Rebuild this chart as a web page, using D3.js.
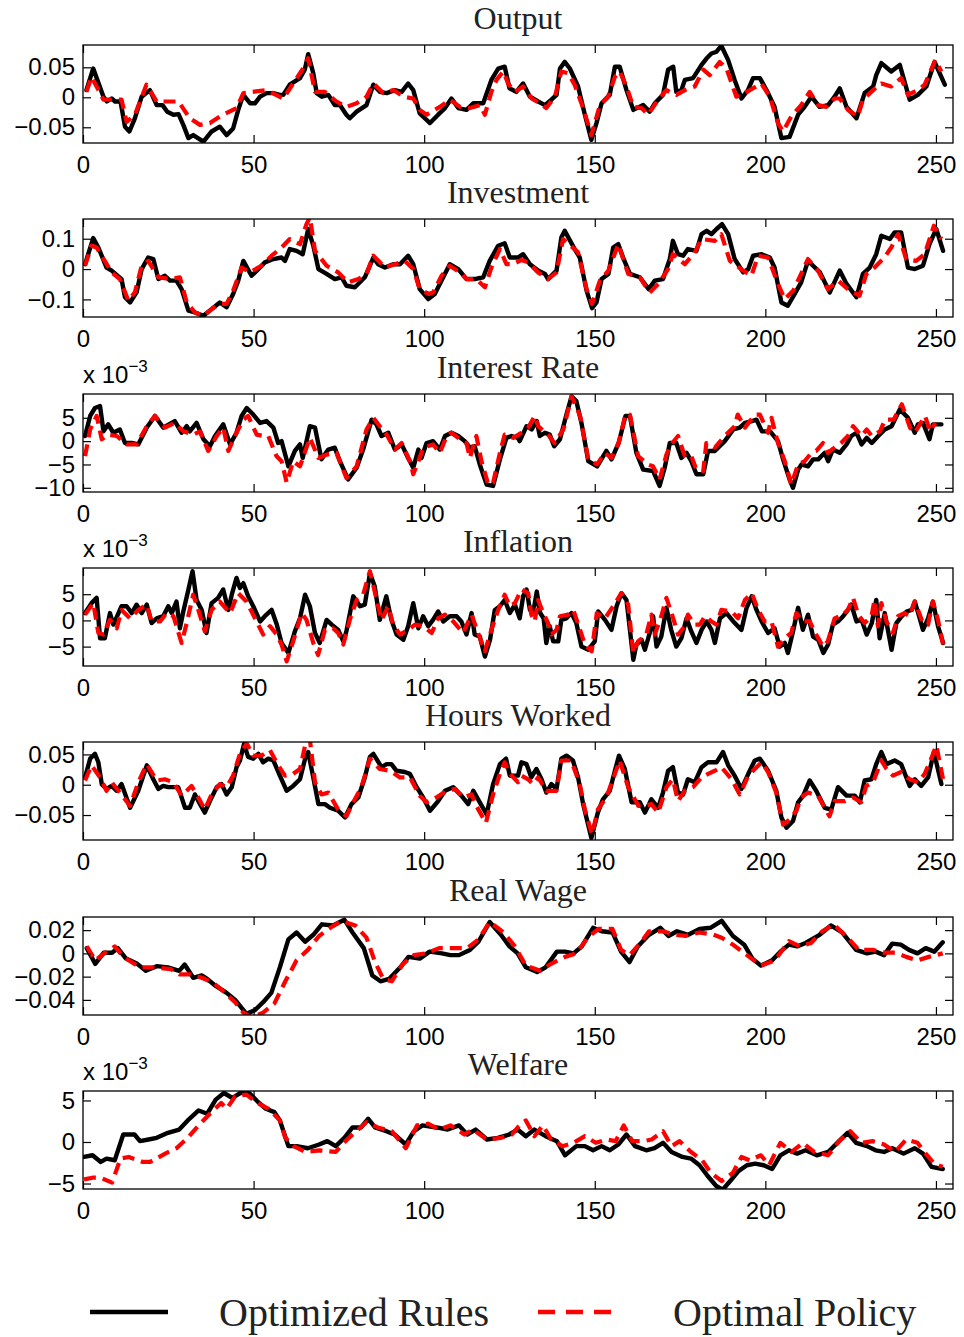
<!DOCTYPE html>
<html><head><meta charset="utf-8">
<script src="https://cdn.jsdelivr.net/npm/d3@7"></script>
<style>body{margin:0;background:#fff}svg{display:block}</style>
</head><body>
<svg id="c" width="964" height="1337"></svg>
<script>
const xTicks=[0,50,100,150,200,250];
const titles=["Output","Investment","Interest Rate","Inflation","Hours Worked","Real Wage","Welfare"];
const legendLabels=["Optimized Rules","Optimal Policy"];

const outputRules=[[1,0.012],[3,0.048],[6,0.001],[7,-0.007],[8.4,-0.002],[9.4,-0.007],[11,-0.007],[12.3,-0.049],[13.6,-0.057],[15.2,-0.035],[17.2,0.001],[19.6,0.012],[21.6,-0.013],[23.3,-0.013],[24.7,-0.024],[26.5,-0.029],[28,-0.028],[29.4,-0.046],[30.9,-0.068],[32.3,-0.063],[35.3,-0.074],[37.7,-0.057],[40.1,-0.049],[42.1,-0.063],[44,-0.052],[45.5,-0.021],[47,0.004],[49,-0.010],[50.4,-0.010],[51.9,0.001],[53.8,0.007],[55.8,0.007],[57.7,0.004],[58.7,0.004],[60.6,0.021],[63.6,0.032],[65,0.046],[66,0.072],[67.5,0.040],[68.5,0.007],[70,0.001],[71.9,0.004],[73.8,-0.013],[75.3,-0.013],[77.2,-0.029],[78.2,-0.035],[80.2,-0.024],[83.1,-0.013],[85.1,0.021],[87,0.009],[89,0.007],[91.4,0.012],[93.4,0.009],[95.3,0.023],[96.8,0.012],[98.7,-0.027],[101.7,-0.043],[104.1,-0.029],[106.1,-0.018],[108,-0.002],[110,-0.018],[112.4,-0.021],[114.4,-0.010],[117.3,-0.010],[119.7,0.029],[121.7,0.048],[123.6,0.051],[125,0.015],[127,0.009],[129,0.023],[131,0.001],[133.4,-0.007],[135.4,-0.013],[137.3,-0.004],[138.8,0.004],[139.8,0.048],[141.2,0.059],[142.7,0.048],[145.1,0.018],[147.1,-0.029],[149,-0.071],[150.5,-0.043],[152,-0.010],[154.4,0.004],[155.9,0.051],[157.3,0.051],[159.3,0.012],[161.3,-0.021],[164.2,-0.013],[166.1,-0.024],[167.6,-0.010],[170,0.004],[171.5,0.046],[173,0.051],[173.9,0.009],[175.4,0.012],[176.4,0.029],[178.8,0.032],[181.3,0.054],[182.8,0.065],[184.2,0.073],[185.7,0.076],[187.1,0.086],[189.1,0.062],[191,0.029],[193,-0.002],[194.9,0.012],[196.4,0.032],[198.4,0.032],[200.8,0.007],[202.7,-0.016],[204.7,-0.068],[207.1,-0.066],[209.6,-0.029],[211.5,-0.016],[213.5,0.001],[215.9,-0.016],[218.4,-0.013],[220.3,0.001],[221.8,0.015],[223.8,-0.016],[226.7,-0.035],[229.1,0.007],[231.6,0.018],[232.5,0.037],[234,0.057],[236.9,0.043],[239.4,0.054],[242.3,-0.004],[244.7,0.004],[247.2,0.018],[249.6,0.059],[252.6,0.021]];
const outputOptimal=[[1,0.009],[2.5,0.034],[6,-0.004],[11.3,-0.004],[12.8,-0.041],[15.2,-0.029],[18.6,0.021],[21.6,-0.007],[24.5,-0.007],[28,-0.007],[31.3,-0.035],[34.3,-0.046],[37.2,-0.043],[40.1,-0.032],[45,-0.018],[47,0.007],[53.8,0.012],[58.7,-0.002],[61.6,0.023],[64.5,0.048],[66,0.065],[68,0.009],[70.9,0.009],[74.3,-0.007],[77.2,-0.016],[80.2,-0.010],[83.1,0.001],[85.1,0.023],[88,0.007],[91,0.012],[94,0.001],[96.8,-0.002],[98.7,-0.021],[100.7,-0.029],[104.6,-0.016],[107.5,-0.004],[110.5,-0.016],[113.4,-0.018],[116.3,-0.013],[117.8,-0.029],[119.7,0.009],[121.2,0.029],[123.2,0.043],[124.6,0.023],[126.6,0.009],[129,0.018],[131.5,-0.002],[133.9,-0.010],[135.8,-0.018],[138.3,0.001],[140.2,0.043],[142.2,0.040],[144.1,0.021],[146.6,-0.018],[149,-0.063],[151.5,-0.013],[153.9,0.001],[155.9,0.034],[157.3,0.043],[159.3,0.018],[161.3,-0.016],[163.7,-0.018],[165.6,-0.029],[168.6,-0.004],[171,0.012],[172.5,0.007],[173.9,0.004],[176.4,0.012],[179.3,0.018],[181.8,0.046],[183.7,0.037],[186.6,0.059],[188.6,0.048],[191.5,0.001],[194,0.007],[196.4,0.015],[198.8,0.023],[201.3,0.001],[203.7,-0.043],[205.2,-0.057],[207.6,-0.032],[210.5,-0.013],[213,0.009],[215.5,-0.013],[217.9,-0.016],[220.3,-0.002],[221.8,-0.002],[224.2,-0.021],[227.1,-0.032],[228.6,-0.004],[231.6,0.012],[234,0.023],[236.9,0.018],[239.8,0.032],[241.8,0.004],[244.7,0.012],[246.7,0.021],[249.8,0.062],[251.6,0.043]];

const investmentRules=[[0.6,0.016],[3,0.102],[4.5,0.071],[6.9,0.005],[8.4,-0.005],[11.3,-0.033],[12.3,-0.093],[13.8,-0.110],[15.7,-0.077],[17.2,0],[19.1,0.038],[20.6,0.033],[22.1,-0.033],[24,-0.022],[25.5,-0.038],[27.4,-0.038],[28.9,-0.066],[30.9,-0.137],[32.8,-0.143],[35.3,-0.154],[37.7,-0.132],[40.1,-0.110],[42.1,-0.126],[44,-0.082],[45.5,-0.038],[47,0.027],[49.4,-0.022],[51.4,0],[53.3,0.022],[55.8,0.033],[58.2,0.038],[59.2,0.027],[60.6,0.066],[62.6,0.060],[64.4,0.049],[66,0.132],[67.5,0.077],[69,0],[71.4,-0.016],[73.8,-0.033],[75.8,-0.027],[77.2,-0.055],[79.7,-0.060],[82.6,-0.027],[85.1,0.038],[86.5,0.016],[88.5,0.005],[90.9,0.016],[92.9,0.016],[95.3,0.044],[96.8,0.016],[98.7,-0.066],[101.2,-0.099],[103.1,-0.082],[105.1,-0.038],[107.5,0.016],[110,0],[112.4,-0.033],[114.8,-0.033],[117.3,-0.027],[119.2,0.027],[121.7,0.077],[123.6,0.085],[125.1,0.038],[127.5,0.038],[129,0.049],[131,0.016],[133.4,-0.005],[135.4,-0.016],[136.3,-0.033],[138.8,-0.005],[140.2,0.104],[141.2,0.126],[144.1,0.066],[145.6,0.038],[147.6,-0.071],[149.2,-0.129],[150.5,-0.110],[152,-0.033],[154,-0.016],[155.4,0.071],[156.9,0.082],[158.3,0.038],[160.3,-0.016],[163.2,-0.027],[165.8,-0.066],[167.6,-0.038],[170,-0.033],[172,0.033],[172.9,0.093],[174.4,0.049],[175.9,0.044],[177.3,0.066],[179.8,0.060],[181.3,0.115],[182.8,0.126],[184.2,0.115],[185.7,0.132],[187.3,0.148],[189.1,0.115],[191,0.033],[193.5,-0.011],[195,0],[196.4,0.044],[198.9,0.049],[201.3,0.038],[202.7,0.005],[204.7,-0.110],[206.6,-0.121],[208.6,-0.082],[210.5,-0.044],[212.5,0.027],[214,0.011],[216,-0.011],[218.9,-0.077],[221.8,-0.005],[223.8,-0.049],[226.7,-0.093],[228.6,-0.016],[230.6,0.005],[232.5,0.049],[234,0.110],[236.5,0.099],[237.9,0.121],[239.8,0.121],[241.8,0.005],[243.8,0],[246.2,0.011],[248.1,0.082],[250.1,0.132],[252.1,0.060]];
const investmentOptimal=[[0.6,0.011],[2.5,0.077],[4,0.071],[8.4,-0.011],[10.8,-0.033],[13.3,-0.104],[15.2,-0.077],[17.2,0.011],[19.1,0.027],[22.1,-0.027],[25.5,-0.033],[28.4,-0.027],[30.4,-0.110],[32.8,-0.143],[35.3,-0.154],[37.7,-0.132],[40.1,-0.115],[42.1,-0.115],[44,-0.071],[46.5,0.005],[48.9,-0.011],[52.3,0.011],[55.3,0.044],[58.2,0.071],[60.6,0.099],[63.6,0.082],[65.5,0.148],[66.5,0.170],[68,0.060],[71.4,0.011],[74.8,-0.011],[77.7,-0.044],[80.7,-0.033],[83.1,-0.016],[85.1,0.044],[88.5,0.005],[91.4,0.016],[94.3,0.027],[96.8,0],[98.7,-0.066],[101.2,-0.082],[102.6,-0.077],[105.1,-0.022],[107.5,0.011],[110.5,-0.011],[112.4,-0.033],[115.3,-0.033],[117.8,-0.060],[119.7,0.005],[122.2,0.066],[124.1,0.016],[126.1,0.016],[128.5,0.030],[130.5,0.022],[133.4,-0.011],[136.3,-0.033],[138.8,-0.011],[140.7,0.099],[145.1,0.055],[147.6,-0.066],[149.2,-0.115],[151.5,-0.038],[154,-0.005],[156.9,0.082],[159.8,-0.016],[163.2,-0.027],[166.1,-0.077],[168.6,-0.049],[171.5,0],[172.9,0.049],[176.4,0.016],[179.3,0.055],[181.3,0.099],[185.2,0.093],[187.1,0.115],[189.6,0.027],[193.5,-0.005],[195.9,-0.022],[197.9,0.044],[200.8,0.038],[203.7,-0.049],[205.7,-0.099],[208.2,-0.071],[212.5,0.033],[215.4,-0.005],[218.3,-0.066],[221.3,-0.038],[224.2,-0.066],[227.6,-0.088],[229.6,-0.016],[232,0.005],[234.9,0.038],[236.9,0.071],[238.9,0.115],[241.3,0.033],[244.2,0.027],[246.7,0.049],[249.4,0.143],[251.6,0.099]];

// values in units of 10^-3
const interestRules=[[0.6,1.1],[2.1,5.4],[3.5,7.1],[5,7.5],[6,2.1],[7.4,3.6],[8.9,1.8],[10.8,2.5],[12.3,-0.4],[14.3,-0.4],[16.2,-0.7],[18.7,2.9],[21.1,5.4],[23.5,2.9],[26.9,4.3],[28.9,1.8],[30.4,3.2],[31.3,2.1],[33.3,3.9],[35.3,0.4],[37.2,-1.1],[38.7,1.1],[41.1,3.6],[43.1,-0.7],[45,1.8],[46.5,5.4],[48,7.1],[49.9,5.7],[51.9,3.9],[53.8,4.3],[55.8,2.9],[57.2,-0.4],[58.2,0],[60.2,-5.4],[62.1,-2.1],[63.6,-0.7],[64.4,-3.6],[66.5,3.2],[68,2.9],[69.9,-3.9],[71.9,-1.8],[73.8,-1.4],[75.3,-4.3],[77.7,-8.2],[80.2,-5.7],[82.1,-1.8],[84.6,4.6],[86,3.6],[87.5,1.1],[89.5,1.8],[91.4,-1.8],[93.4,-0.7],[95.3,-3.6],[96.8,-5.7],[98.3,-1.8],[99.2,-3.6],[100.7,-0.4],[102.6,0],[104.6,-1.8],[106.1,1.1],[108,1.8],[110,1.1],[111.9,0],[113.4,-1.4],[114.8,-1.1],[116.3,-5],[118.3,-9.3],[120.2,-9.6],[122.2,-3.9],[124.1,0.7],[125.6,1.1],[127.5,0.7],[128,0],[130,3.2],[131.5,2.5],[133,4.3],[133.9,1.1],[135.4,1.8],[136.8,1.4],[138.1,-1.1],[139.8,0.4],[141.7,5.7],[143.2,9.6],[144.6,8.6],[146.1,3.9],[148.1,-4.3],[150.7,-5.4],[153.4,-2.1],[154.9,-3.9],[157,-0.4],[159,5.4],[160.3,5.4],[162.2,-2.5],[164.2,-6.1],[167.1,-6.4],[169,-9.6],[170.5,-5.7],[172,-0.4],[173.9,-0.4],[175.4,-3.6],[176.9,-2.5],[178.3,-4.3],[179.8,-7.1],[181.8,-7.1],[183.2,-2.1],[185.2,-2.1],[188.1,0],[190.6,2.5],[192.5,2.9],[194,3.9],[196.1,4.3],[197.4,4.6],[199,2.1],[201.4,2.1],[203.7,0],[205.2,-3.9],[207.1,-8.2],[208.1,-10],[209.6,-6.1],[210.6,-5],[212.5,-5.4],[214,-3.9],[215.5,-3.9],[217.4,-2.5],[218.4,-4.3],[219.8,-1.8],[221.8,-2.5],[223.8,-0.7],[225.2,1.1],[226.7,1.8],[228.2,-0.7],[229.7,0.7],[231.2,-0.4],[233.1,1.1],[235,2.5],[237,3.2],[239.4,6.8],[241.8,5],[243.8,1.8],[244.7,3.6],[246.2,3.9],[248.1,0.4],[249.1,3.6],[251.6,3.6]];
const interestOptimal=[[0.6,-3.2],[2.1,2.5],[4,5.4],[5.5,0.4],[7.4,1.4],[9.9,1.1],[12.8,-0.7],[15.7,-0.7],[18.7,3.2],[21.1,5.4],[24,2.9],[26.9,3.9],[29.4,2.1],[32.3,1.4],[34.3,2.1],[36.7,-2.1],[39.2,1.1],[41.1,2.9],[42.6,-2.1],[45,1.8],[47,4.6],[48.4,5.4],[50.9,1.4],[52.8,1.1],[54.3,1.1],[56.7,-3.2],[58.2,-4.3],[59.7,-8.9],[61.6,-4.3],[63.6,-5.4],[65.5,-1.4],[66.5,0.7],[69,-3.6],[71.4,-2.9],[74.3,-2.5],[77.2,-7.9],[80.2,-5.4],[83.1,2.5],[85.1,5],[87,3.2],[89,1.4],[91.4,-1.8],[93.4,-0.4],[95.8,-4.3],[96.8,-7.1],[98.3,-4.3],[99.7,-1.4],[102.6,-0.7],[104.6,-2.5],[106.6,1.1],[108,1.8],[110.5,0.4],[112.4,-0.4],[113.4,-3.6],[115.3,1.1],[116.8,-4.3],[118.8,-9.3],[120.2,-8.9],[122.2,-2.5],[123.6,1.4],[126.1,0.7],[128.5,1.8],[130.5,2.9],[132.4,5.4],[133.4,3.2],[136.3,1.4],[138.2,-0.4],[140.8,2.5],[143.2,9.6],[145.7,5.4],[148.1,-3.9],[150.7,-5],[152.9,-2.5],[154.9,-3.6],[157,-0.4],[159,5.7],[160.3,5.7],[162.7,-3.2],[165.6,-5],[167.1,-5.4],[169,-8.2],[171,-2.9],[172.4,-0.7],[174.4,1.1],[176.4,-3.2],[178.3,-3.2],[179.8,-6.1],[181.8,-6.4],[182.7,-0.4],[185.2,-1.4],[188.1,1.1],[191,3.2],[191.9,5.7],[194,2.9],[197,5.7],[198.4,5.7],[200.8,1.8],[201.8,5],[203.7,-0.4],[205.7,-4.3],[207.6,-9.3],[209.6,-5],[211.5,-4.3],[213.5,-2.5],[214.9,-2.1],[216.9,-0.4],[218.3,-2.5],[220.3,-1.4],[222.2,-0.4],[224.2,1.1],[225.7,3.2],[228.2,1.1],[229.7,2.5],[231.2,1.1],[233.6,2.1],[235.1,4.6],[237.6,4.6],[240,7.9],[242.4,2.9],[243.8,1.8],[246.8,5.4],[248.3,2.1],[249.8,3.9]];

// values in units of 10^-3
const inflationRules=[[0.6,1.4],[2.5,3.3],[4,4.3],[5,-3.4],[6.4,-3.4],[7.9,1.4],[8.9,-0.8],[10.4,1.4],[11.3,2.7],[12.8,2.7],[14.3,1.4],[15.7,3],[17.2,1.4],[18.7,3],[20.1,-0.5],[21.6,0.4],[23.5,0.8],[25,2.7],[26,1.4],[27.4,3.6],[28.4,-1.5],[29.4,1.7],[30.9,5.9],[32.1,9.4],[33.3,3.9],[34.8,2],[36.2,-2.4],[37.7,3.3],[39.6,4.3],[41.1,5.9],[42.6,2],[43.6,4.9],[45,8.1],[46,6.2],[47,7.1],[48.4,4.6],[49.9,2.7],[51.9,-0.2],[53.3,0.8],[55.3,2],[56.8,-0.8],[58.2,-4.3],[60.2,-6.2],[62.1,-2.1],[63.6,0.4],[65.1,4.9],[66.5,2.7],[68,-2.4],[69.4,-4.3],[71.4,0.1],[72.9,-0.8],[74.8,-1.8],[76.3,-4],[77.2,-2.1],[79.2,4.6],[81.2,2.7],[82.6,3],[84.1,9],[85.5,6.5],[87,0.1],[88.9,4.6],[90.4,0.1],[91.9,-2.7],[93.9,-3.7],[95.3,-1.1],[96.8,3.3],[98.3,-1.5],[99.7,0.8],[101.2,-1.1],[102.6,0.1],[104.1,1.7],[105.6,-0.2],[107.5,0.8],[109.5,0.8],[110.9,-0.2],[112.4,-2.7],[113.9,1.4],[114.8,-2.7],[116.3,-3.1],[117.8,-6.9],[119.3,-3.7],[120.7,2],[122.2,2.7],[123.6,3.9],[125.1,1.4],[126.6,3],[128,0.4],[129,4.6],[130,5.9],[131,2],[132,1.7],[133,5.5],[134,1.4],[135,0.4],[135.8,-4.3],[136.8,-1.1],[137.8,-4],[139.3,-4],[140.2,0.1],[141.7,0.4],[143.2,1.4],[144.6,-0.5],[146.1,-5],[148.1,-5.6],[150,-4],[151,1.7],[153,0.1],[154.9,-1.8],[156.4,2.7],[157.8,5.2],[159.3,3.9],[160.3,-1.8],[161.3,-7.5],[162.2,-4.6],[163.7,-3.7],[164.7,-5.6],[166.1,-2.4],[167.1,0.8],[168.1,-5],[169.5,-3.1],[171,2.4],[172.4,-1.8],[173.9,-5],[175.4,-3.4],[176.9,0.4],[178.3,-2.1],[179.8,-4.3],[181.3,-1.8],[182.8,-0.2],[184.2,-1.8],[185.2,-4.3],[186.7,0.4],[188.6,1.4],[190.6,-0.2],[193,-1.8],[194.5,2.4],[196,4.6],[197.4,2],[198.9,-0.2],[200.8,-2.4],[202.7,-1.5],[204.2,-5],[205.7,-4.3],[206.6,-6.2],[208.1,-2.1],[209.6,2.4],[211,-1.8],[212.5,1.1],[214,-3.1],[215.5,-3.7],[217,-6.2],[218.4,-4.6],[219.8,-0.8],[221.3,-0.2],[222.8,0.8],[224.2,2],[225.2,3],[226.7,-0.2],[228.2,0.1],[229.7,-2.7],[231.2,-0.5],[232.5,3.9],[233.5,-3.4],[235,1.4],[237,-5.6],[238.4,-0.5],[240,0.8],[241.4,1.7],[242.9,2],[243.8,3.6],[244.8,1.4],[246.2,-1.8],[247.7,0.4],[249.1,3.6],[250.6,-1.1],[252.1,-4.3]];
const inflationOptimal=[[0.6,1.1],[3,3.3],[4.5,-2.4],[6,-2.7],[7.9,0.1],[9.9,-1.5],[11.3,2],[13.8,0.4],[16.2,2],[18.7,3],[20.1,-0.2],[22.6,-0.2],[24.5,1.4],[26.5,0.8],[28.9,-4.3],[30.4,-0.5],[32.3,4.9],[33.8,2],[35.7,-2.1],[37.7,2],[40.1,3.6],[43.1,1.4],[45.5,5.2],[47.9,3.6],[50.4,0.4],[52.8,-2.7],[54.8,-1.1],[56.8,-2.7],[58.2,-4.6],[59.7,-7.8],[61.6,-4],[64.1,1.4],[65.5,0.1],[67.5,-4.3],[68.9,-6.6],[70.9,-1.8],[73.3,-1.5],[74.8,-2.4],[76.3,-4.6],[78.2,0.1],[80.2,3.9],[82.1,4.9],[84.1,9.4],[85.5,5.5],[87.5,0.1],[89.5,2.7],[90.9,-0.8],[92.9,-2.7],[95.3,-1.8],[97.3,-0.8],[99.7,-1.1],[102.2,-2.4],[104.1,0.4],[106.1,1.1],[108.5,-0.2],[111.4,-2.4],[113.9,1.1],[115.8,-2.4],[117.8,-5.9],[119.7,-1.8],[121.7,2],[123.6,4.9],[125.1,2.7],[126.6,3.3],[128.5,5.9],[130.5,5.2],[131.4,1.1],[132.4,-0.2],[133.4,3.9],[134.9,1.4],[136.3,-0.5],[137.3,-2.7],[138.8,-1.8],[139.8,0.8],[142.2,1.1],[143.7,2],[145.7,-1.8],[147.1,-4.6],[149.1,-5.9],[150.6,1.4],[153,0.4],[155.4,2.7],[157.8,5.2],[159.8,3],[161.3,-6.2],[162.7,-4],[165.1,-2.7],[166.6,1.1],[167.6,-2.7],[169.5,0.8],[171,4.3],[173,0.4],[174.4,-2.7],[176.4,-1.1],[177.3,1.1],[179.3,-0.8],[180.8,-0.8],[182.3,0.8],[184.2,-0.2],[185.7,-0.8],[187.1,2],[190.1,1.7],[192,0.4],[194,3.9],[196,5.2],[197.9,2],[199.8,-0.2],[201.8,-0.2],[203.7,-5],[205.7,-3.4],[207.6,-2.4],[209.1,1.4],[211,-0.2],[213,-0.2],[214.9,-2.7],[216.9,-5],[218.3,-4],[220.3,0.4],[222.8,1.1],[224.2,2],[225.7,4.3],[227.2,1.1],[229.1,-0.5],[231.1,0.8],[232,3.9],[233,-1.1],[234,3.3],[235.5,-0.2],[237.4,-2.4],[238.9,0.8],[240.8,1.4],[242.3,0.8],[243.8,3.6],[246.2,-0.5],[247.7,-0.8],[249.1,3.6],[250.6,0.1],[252.1,-4.6]];

const hoursRules=[[0.6,0.012],[2.1,0.043],[3.5,0.051],[4.5,0.037],[5.5,0.001],[6.9,-0.007],[8.4,-0.002],[9.9,-0.010],[11.3,0.001],[13.8,-0.038],[16.2,-0.010],[18.7,0.032],[20.6,0.009],[22.1,-0.007],[23.5,-0.002],[25,-0.004],[27.9,-0.004],[29.9,-0.038],[31.3,-0.038],[32.8,-0.016],[34.3,-0.032],[35.7,-0.046],[37.2,-0.027],[39.2,-0.004],[40.6,0.001],[42.1,-0.016],[43.6,-0.004],[45,0.029],[46,0.040],[47.2,0.067],[48.4,0.046],[49.9,0.043],[51.4,0.051],[52.8,0.037],[54.3,0.043],[55.8,0.040],[57.7,0.015],[59.7,-0.010],[61.6,-0.002],[63.6,0.009],[65.1,0.043],[66,0.054],[67.5,0.012],[69,-0.032],[70.9,-0.032],[72.4,-0.038],[74.8,-0.043],[76.8,-0.054],[78.7,-0.032],[80.7,-0.021],[82.6,0.012],[84.1,0.046],[85.1,0.051],[87.5,0.029],[89,0.034],[90.4,0.034],[91.9,0.023],[94.3,0.021],[95.8,0.018],[97.8,-0.004],[99.7,-0.021],[101.7,-0.043],[104.1,-0.027],[106.1,-0.010],[108.5,-0.004],[110.9,-0.018],[112.9,-0.032],[114.4,-0.010],[116.3,-0.029],[118.3,-0.049],[120.2,0.001],[122.2,0.034],[124,0.043],[125.1,0.015],[127.5,0.015],[128.5,0.037],[130,0.034],[131.4,0.012],[132.9,0.026],[134.4,0.009],[135.8,-0.013],[137.3,0.001],[138.8,-0.007],[140.2,0.043],[141.7,0.048],[143.6,0.040],[145.1,0.012],[146.6,-0.032],[149,-0.088],[150.9,-0.046],[152.4,-0.024],[154.4,-0.010],[155.9,0.023],[157.1,0.048],[158.8,0.026],[160.8,-0.029],[163.2,-0.029],[164.7,-0.046],[166.6,-0.024],[168.6,-0.038],[170,-0.013],[171.5,0.023],[172.9,0.029],[174.4,-0.013],[175.9,-0.016],[177.3,0.009],[179.3,0.004],[181.3,0.029],[183.2,0.037],[185.7,0.037],[187.6,0.054],[189.1,0.032],[191,0.015],[193,-0.007],[195,0.018],[196.9,0.040],[198.4,0.043],[200.8,0.023],[203.2,-0.010],[204.7,-0.054],[206.2,-0.071],[208.1,-0.060],[209.6,-0.029],[211.1,-0.018],[213,0.007],[214.9,-0.010],[217.4,-0.038],[219.3,-0.041],[221.3,-0.004],[223.8,-0.018],[226.2,-0.018],[227.7,-0.029],[229.1,0.007],[231.1,0.009],[232.5,0.034],[234,0.054],[235.5,0.034],[237.9,0.040],[239.8,0.034],[242.3,-0.002],[243.8,0.009],[245.7,-0.002],[247.7,0.012],[249.4,0.054],[251.6,0.001]];
const hoursOptimal=[[0.6,0.007],[2.5,0.032],[5,0.012],[6.9,-0.010],[8.4,0.004],[10.8,-0.013],[13.8,-0.035],[16.2,0.004],[18.7,0.034],[21.6,0.007],[24,0.009],[26.5,0.004],[28.9,-0.018],[31.8,-0.002],[33.3,-0.016],[35.7,-0.041],[37.7,-0.016],[40.1,0.001],[42.1,-0.004],[44,0.015],[46,0.051],[48,0.068],[49.9,0.048],[52.3,0.048],[54.8,0.057],[57.2,0.032],[59.2,0.015],[61.6,0.018],[63.6,0.026],[65.5,0.075],[66.5,0.075],[68,0.004],[69.9,-0.016],[71.9,-0.013],[74.8,-0.041],[77.2,-0.052],[79.2,-0.029],[81.6,-0.004],[84.1,0.043],[87,0.026],[90,0.023],[92.9,0.012],[95.8,0.012],[98.7,-0.018],[100.7,-0.029],[103.6,-0.021],[106.5,-0.010],[109,-0.007],[111.4,-0.021],[113.9,-0.016],[115.3,-0.035],[118.1,-0.063],[120.2,-0.016],[122.2,0.018],[123.6,0.037],[125.1,0.018],[127.5,0.004],[128.5,0.015],[130.5,0.009],[131.9,0.001],[133.4,0.012],[135.8,-0.010],[138.8,-0.010],[140.2,0.040],[143.1,0.040],[145.6,0.001],[147.1,-0.041],[149.2,-0.082],[150.9,-0.041],[153.4,-0.021],[155.9,0.018],[157.3,0.040],[159.8,-0.004],[162.8,-0.035],[164.7,-0.035],[166.6,-0.032],[168.6,-0.046],[171,-0.004],[172.9,0.009],[174.4,-0.027],[176.4,-0.010],[178.8,-0.004],[181.3,0.012],[183.2,0.018],[185.2,0.023],[187.1,0.029],[190.1,0.009],[192.5,-0.016],[195,0.015],[196.9,0.026],[198.9,0.037],[200.8,0.021],[203.2,-0.013],[205.2,-0.066],[207.2,-0.057],[209.1,-0.043],[210.5,-0.021],[212.5,-0.013],[215.4,-0.018],[218.8,-0.052],[220.3,-0.027],[223.3,-0.027],[225.7,-0.021],[228.1,-0.029],[229.6,-0.002],[231.6,0.004],[234,0.040],[235.5,0.026],[237.4,0.015],[239.8,0.021],[242.3,0.009],[244.8,0.004],[246.7,0.018],[248.6,0.043],[250.1,0.065],[252.1,0.009]];

const wageRules=[[1.1,0.0045],[3.6,-0.009],[6.1,0.0006],[8.5,0.0006],[10.2,0.0045],[12.6,-0.0045],[15.9,-0.009],[18.4,-0.015],[21.6,-0.011],[24.9,-0.012],[28.2,-0.015],[29.8,-0.0096],[32.3,-0.021],[34.8,-0.019],[36.4,-0.022],[38.9,-0.028],[42.1,-0.034],[44.6,-0.040],[47.9,-0.052],[50.3,-0.049],[52.8,-0.042],[55.2,-0.034],[57.7,-0.012],[60.2,0.012],[62.6,0.018],[65.1,0.010],[67.5,0.016],[70,0.025],[73.3,0.024],[76.6,0.029],[79,0.018],[82.3,0.0045],[84.8,-0.019],[87.2,-0.024],[89.7,-0.022],[93,-0.012],[95.4,-0.003],[98.7,-0.0045],[101.6,0.0015],[105.2,0],[107.7,-0.0015],[110.2,-0.0015],[113.4,0.003],[115.9,0.010],[119.2,0.027],[122.5,0.016],[125,0.006],[127.4,0],[129.8,-0.012],[133.1,-0.016],[135.6,-0.012],[138.9,0.0015],[141.3,0.0015],[143.8,0],[146.2,0.006],[149.5,0.022],[152,0.019],[155.2,0.018],[157.7,0.0015],[160.2,-0.0075],[162.6,0.006],[165.9,0.016],[169.2,0.022],[171.6,0.015],[174.1,0.019],[177.4,0.016],[180.7,0.021],[183.9,0.022],[187.2,0.028],[190.5,0.015],[193.8,0.0075],[196.2,-0.0045],[198.7,-0.0105],[202,-0.006],[204.4,0.0015],[206.9,0.0075],[209.3,0.006],[211.8,0.009],[215.9,0.016],[219.2,0.024],[222.5,0.018],[226.6,0.003],[229.8,0],[232.3,0.0015],[234.8,-0.0015],[237.2,0.0084],[239.7,0.0075],[242.1,0.003],[244.6,0],[247,0.0045],[249.5,0.0015],[252,0.0095]];
const wageOptimal=[[1.1,0.006],[3.6,-0.006],[6.9,0.0015],[9.3,0.006],[11.8,-0.003],[16.7,-0.012],[20.8,-0.012],[25.7,-0.0135],[28.2,-0.018],[31.5,-0.018],[34.8,-0.021],[38,-0.025],[41.3,-0.033],[44.6,-0.042],[47,-0.051],[49.5,-0.055],[52.8,-0.051],[56.1,-0.043],[59.3,-0.024],[62.6,-0.006],[65.9,0.003],[69.2,0.015],[72.5,0.022],[75.7,0.028],[79.8,0.024],[83.1,0.0135],[85.6,-0.0075],[88,-0.022],[90.5,-0.024],[93.8,-0.009],[97,-0.0015],[100.3,0],[104.4,0.0045],[108.5,0.0045],[112.6,0.0045],[115.9,0.012],[119.2,0.027],[123.3,0.018],[126.6,0.006],[129.8,-0.0105],[134,-0.015],[137.2,-0.009],[141.3,-0.003],[144.6,0],[147.9,0.0135],[151.1,0.021],[155.2,0.021],[157.7,0.003],[160.2,-0.0015],[163.4,0.009],[165.9,0.019],[170,0.019],[173.3,0.016],[176.6,0.015],[180.7,0.018],[184.8,0.016],[187.2,0.0135],[190.5,0.0075],[194.6,-0.0015],[198.7,-0.0105],[202.8,-0.006],[206.9,0.0105],[210.2,0.006],[213.4,0.009],[216.7,0.019],[220,0.025],[224.1,0.0135],[227.4,0.003],[231.5,0.003],[234.8,0.0006],[238,0.0006],[241.3,-0.003],[244.6,-0.006],[247.9,-0.003],[252,0]];

// values in units of 10^-3
const welfareRules=[[0.3,-1.8],[2.8,-1.6],[5.2,-2.4],[6.9,-2.0],[9.3,-2.2],[11.8,0.9],[15.1,0.9],[16.7,0.1],[19.2,0.3],[21.6,0.5],[24.9,1.1],[28.2,1.5],[30.7,2.6],[33.9,3.8],[36.4,3.4],[38.9,5.1],[41.3,5.9],[43.8,5.3],[46.2,5.9],[48.7,5.9],[51.1,4.9],[53.6,4.0],[56.1,3.6],[57.7,2.6],[60.2,-0.5],[62.6,-0.5],[65.9,-0.75],[69.2,-0.3],[71.6,0.1],[74.1,-0.5],[76.6,0.5],[79,1.75],[81.5,1.75],[83.6,2.8],[85.6,1.75],[88.9,1.3],[91.3,0.9],[94.6,-0.3],[97,1.3],[99.5,2.0],[103.6,1.75],[106.9,1.5],[110.2,2.0],[112.6,0.9],[115.1,1.5],[118.4,0.3],[121.6,0.5],[124.9,0.9],[127.4,1.5],[129.8,0.7],[132.3,1.5],[135.6,0.7],[138.9,0.1],[141.3,-1.6],[144.6,-0.5],[147.1,-0.5],[149.5,-1.0],[152,-0.5],[154.4,-1.0],[156.9,-0.3],[159.3,0.9],[161.8,-0.5],[165.1,-1.0],[167.5,-0.75],[170,-0.1],[172.5,-1.2],[175.7,-1.8],[178.2,-2.0],[180.7,-2.8],[183.1,-4.1],[185.6,-5.3],[187.5,-5.75],[189.7,-4.7],[192.1,-3.5],[194.6,-2.8],[197,-2.6],[199.5,-2.8],[202,-3.25],[204.4,-1.6],[206.9,-1.0],[209.3,-1.4],[211.8,-1.0],[215.1,-1.6],[218.4,-1.2],[221.6,0.1],[224.1,1.1],[226.6,-0.1],[229.8,-0.5],[232.3,-1.0],[234.8,-1.2],[237.2,-0.75],[240.5,-1.4],[243.8,-0.75],[246.2,-1.4],[248.7,-3.0],[252,-3.25]];
const welfareOptimal=[[0.3,-4.5],[2.8,-4.3],[5.2,-4.3],[8.5,-4.9],[11,-2.0],[13.4,-1.8],[17.5,-2.4],[19.7,-2.4],[24.1,-1.4],[27.4,-0.75],[30.7,0.5],[33.9,2.0],[37.2,3.4],[40.5,4.7],[42.1,4.0],[44.6,5.5],[47.9,5.7],[51.1,4.7],[54.4,4.0],[57.7,2.6],[59.3,0.5],[61.8,-0.5],[65.1,-1.2],[69.2,-1.0],[74.1,-1.2],[77.4,0.3],[80.7,1.5],[83.1,2.4],[86.4,1.75],[90.5,1.3],[94.6,-0.75],[97.9,2.0],[101.1,2.2],[104.4,1.5],[107.7,2.0],[111.8,0.9],[114.3,1.5],[118.4,0.3],[122.5,0.5],[125.7,0.9],[127.4,1.75],[129.8,2.6],[132.3,0.7],[134.8,2.0],[137.2,0.3],[140.5,-0.5],[143.8,-0.1],[147.1,0.7],[150.3,-0.1],[153.6,0.3],[156.1,0.1],[158.5,2.0],[161,0.1],[164.3,0.1],[166.7,0.3],[170,1.3],[172.5,-0.5],[174.9,0.1],[178.2,-1.2],[181.5,-2.2],[184,-3.7],[187.2,-4.7],[190.5,-3.7],[193,-1.8],[195.4,-2.2],[198.7,-1.6],[201.1,-2.8],[204.4,-0.1],[207.7,-1.2],[211,-0.1],[214.3,-1.2],[218.4,-1.6],[221.6,0.1],[224.9,1.3],[228.2,-0.1],[231.5,0.1],[234.8,-0.3],[238,-1.2],[241.3,0.3],[244.6,-0.1],[247,-1.4],[249.5,-2.6],[252,-3.0]];

const yTicksList=[[-0.05,0,0.05],[-0.1,0,0.1],[-10,-5,0,5],[-5,0,5],[-0.05,0,0.05],[-0.04,-0.02,0,0.02],[-5,0,5]];
const yDomains=[[-0.0762,0.0872],[-0.158,0.165],[-10.9,10.1],[-8.7,10.0],[-0.0912,0.0705],[-0.053,0.0313],[-5.66,6.14]];
const scaled=[false,false,true,true,false,false,true];
const rulesSeries=[outputRules,investmentRules,interestRules,inflationRules,hoursRules,wageRules,welfareRules];
const optimalSeries=[outputOptimal,investmentOptimal,interestOptimal,inflationOptimal,hoursOptimal,wageOptimal,welfareOptimal];

const svg=d3.select("#c");
svg.append("rect").attr("width",964).attr("height",1337).attr("fill","#fff");
const L=83,R=953,H=98,firstTop=45,step=174.3;
const x=d3.scaleLinear().domain([0,255]).range([L,R]);
const tickFont="'Liberation Sans', Arial, Helvetica, sans-serif";
const serif="'Liberation Serif','Times New Roman',serif";
const fmt=v=>{const s=String(+v.toFixed(4));return v<0?"\u2212"+s.slice(1):s;};

titles.forEach((title,i)=>{
  const top=Math.round(firstTop+i*step), bot=top+H;
  const y=d3.scaleLinear().domain(yDomains[i]).range([bot,top]);
  const g=svg.append("g");
  const cid="clip"+i;
  svg.append("clipPath").attr("id",cid).append("rect").attr("x",L).attr("y",top).attr("width",R-L).attr("height",H);
  const line=d3.line().x(d=>x(d[0])).y(d=>y(d[1]));
  const lg=g.append("g").attr("clip-path","url(#"+cid+")");
  lg.append("path").datum(rulesSeries[i]).attr("d",line).attr("fill","none").attr("stroke","#000").attr("stroke-width",4.4).attr("stroke-linejoin","round").attr("stroke-linecap","round");
  lg.append("path").datum(optimalSeries[i]).attr("d",line).attr("fill","none").attr("stroke","#ff0000").attr("stroke-width",4.2).attr("stroke-dasharray","12,7").attr("stroke-linejoin","round");
  g.append("rect").attr("x",L).attr("y",top).attr("width",R-L).attr("height",H).attr("fill","none").attr("stroke","#000").attr("stroke-width",1.3);
  const xb=d3.axisBottom(x).tickValues(xTicks).tickSize(-8).tickPadding(13).tickFormat(d3.format("d"));
  const ax=g.append("g").attr("transform",`translate(0,${bot})`).call(xb);
  ax.select(".domain").remove();
  ax.selectAll("line").attr("stroke","#000").attr("stroke-width",1.2);
  ax.selectAll("text").attr("font-family",tickFont).attr("font-size",24).attr("fill","#000");
  const xt=d3.axisTop(x).tickValues(xTicks).tickSize(-8).tickFormat("");
  const axt=g.append("g").attr("transform",`translate(0,${top})`).call(xt);
  axt.select(".domain").remove();
  axt.selectAll("line").attr("stroke","#000").attr("stroke-width",1.2);
  const yl=d3.axisLeft(y).tickValues(yTicksList[i]).tickSize(-8).tickPadding(8).tickFormat(fmt);
  const ay=g.append("g").attr("transform",`translate(${L},0)`).call(yl);
  ay.select(".domain").remove();
  ay.selectAll("line").attr("stroke","#000").attr("stroke-width",1.2);
  ay.selectAll("text").attr("font-family",tickFont).attr("font-size",24).attr("fill","#000");
  const yr=d3.axisRight(y).tickValues(yTicksList[i]).tickSize(-8).tickFormat("");
  const ayr=g.append("g").attr("transform",`translate(${R},0)`).call(yr);
  ayr.select(".domain").remove();
  ayr.selectAll("line").attr("stroke","#000").attr("stroke-width",1.2);
  g.append("text").attr("x",518).attr("y",top-16).attr("text-anchor","middle").attr("font-family",serif).attr("font-size",32).attr("fill","#222").text(title);
  if(scaled[i]){
    const t=g.append("text").attr("x",83).attr("y",top-11).attr("font-family",tickFont).attr("font-size",24).attr("fill","#000");
    t.append("tspan").text("x 10");
    t.append("tspan").attr("dy",-11).attr("font-size",17).text("\u22123");
  }
});

const leg=svg.append("g");
leg.append("line").attr("x1",90).attr("x2",168).attr("y1",1312).attr("y2",1312).attr("stroke","#000").attr("stroke-width",4.5);
leg.append("text").attr("x",219).attr("y",1326).attr("font-family",serif).attr("font-size",40).attr("fill","#222").text(legendLabels[0]);
leg.append("line").attr("x1",538).attr("x2",618).attr("y1",1312).attr("y2",1312).attr("stroke","#ff0000").attr("stroke-width",4.5).attr("stroke-dasharray","17,11");
leg.append("text").attr("x",673).attr("y",1326).attr("font-family",serif).attr("font-size",40).attr("fill","#222").text(legendLabels[1]);
</script>
</body></html>
